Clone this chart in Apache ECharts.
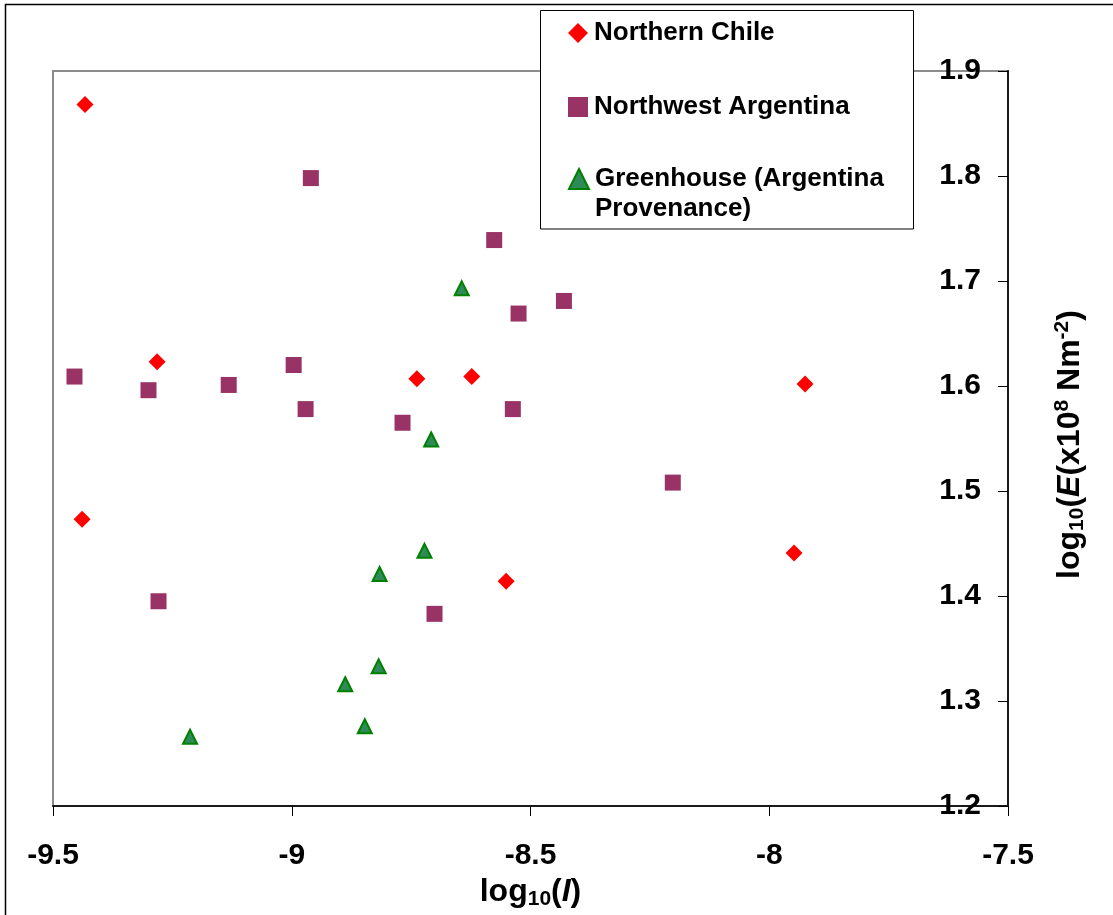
<!DOCTYPE html>
<html><head><meta charset="utf-8">
<script src="https://cdn.jsdelivr.net/npm/echarts@6/dist/echarts.min.js"></script>
<style>html,body{margin:0;padding:0;background:#fff}#c{width:1113px;height:915px}</style>
</head><body><div id="c"></div>
<script>
// ---- data ----
const xTicks = [-9.5, -9, -8.5, -8, -7.5];
const yTicks = [1.2, 1.3, 1.4, 1.5, 1.6, 1.7, 1.8, 1.9];
const seriesNames = ['Northern Chile', 'Northwest Argentina', 'Greenhouse (Argentina Provenance)'];
const chileX = [-9.433, -9.282, -9.439, -8.738, -8.623, -8.551, -7.925, -7.948];
const chileY = [1.868, 1.623, 1.473, 1.607, 1.609, 1.414, 1.602, 1.441];
const argX = [-8.960, -8.576, -8.430, -8.525, -9.455, -9.300, -9.132, -8.996, -8.971, -8.768, -8.537, -8.202, -9.279, -8.701];
const argY = [1.798, 1.739, 1.681, 1.669, 1.609, 1.596, 1.601, 1.620, 1.578, 1.565, 1.578, 1.508, 1.395, 1.383];
const ghX = [-8.644, -8.708, -8.722, -8.816, -8.818, -8.888, -8.847, -9.213];
const ghY = [1.693, 1.549, 1.443, 1.421, 1.333, 1.316, 1.276, 1.266];

const FONT = 'Liberation Sans, Arial, Helvetica, sans-serif';
const zip = (a, b) => a.map((v, i) => [v, b[i]]);

const chart = echarts.init(document.getElementById('c'), null, {renderer: 'canvas'});
const main = {fontFamily: FONT, fontWeight: 'bold', fontSize: 32, color: '#000', lineHeight: 36};
const sub = {fontFamily: FONT, fontWeight: 'bold', fontSize: 21, color: '#000', lineHeight: 21, verticalAlign: 'bottom'};
const sup = {fontFamily: FONT, fontWeight: 'bold', fontSize: 21, color: '#000', lineHeight: 21, verticalAlign: 'top'};
const ital = Object.assign({}, main, {fontStyle: 'italic'});

const legendText = {fontFamily: FONT, fontWeight: 'bold', fontSize: 26, color: '#000', lineHeight: 30, padding: [0, 0, 0, 1]};
function mkLegend(name, top, fmt) {
  return {
    data: [name], left: 568, top: top, orient: 'vertical', padding: 0, itemGap: 0,
    itemWidth: 20, itemHeight: 20, z: 20, selectedMode: false,
    textStyle: legendText, formatter: fmt || '{name}'
  };
}

chart.setOption({
  animation: false,
  backgroundColor: '#fff',
  grid: {left: 53, top: 71, width: 955, height: 735, show: true, borderColor: '#8c8c8c', borderWidth: 2, containLabel: false, outerBoundsMode: 'none'},
  graphic: [
    {type: 'polyline', shape: {points: [[5.5, 1000], [5.5, 4.5], [1200, 4.5]]}, style: {stroke: '#000', lineWidth: 1.5, fill: null}, z: 1},
    {type: 'rect', shape: {x: 540.5, y: 10.5, width: 373, height: 218.5}, style: {fill: '#fff', stroke: '#000', lineWidth: 1}, z: 10}
  ],
  legend: [
    mkLegend(seriesNames[0], 18),
    mkLegend(seriesNames[1], 92),
    mkLegend(seriesNames[2], 134, function (n) { return '\n' + n.replace(' Provenance', '\nProvenance'); })
  ],
  xAxis: {
    type: 'value', min: xTicks[0], max: xTicks[xTicks.length - 1], interval: 0.5,
    splitLine: {show: false},
    axisLine: {show: true, onZero: false, lineStyle: {color: '#1a1a1a', width: 2}},
    axisTick: {show: true, inside: false, length: 10, lineStyle: {color: '#000', width: 1}},
    axisLabel: {margin: 35, fontFamily: FONT, fontWeight: 'bold', fontSize: 30, color: '#000', formatter: v => String(v)},
    name: '{a|log}{s|10}{a|(}{i|I}{a|)}',
    nameLocation: 'middle', nameGap: 58,
    nameTextStyle: {rich: {a: main, s: sub, i: ital}}
  },
  yAxis: {
    type: 'value', position: 'right', min: yTicks[0], max: yTicks[yTicks.length - 1], interval: 0.1,
    splitLine: {show: false},
    axisLine: {show: true, onZero: false, lineStyle: {color: '#1a1a1a', width: 2}},
    axisTick: {show: true, inside: true, length: 10, lineStyle: {color: '#000', width: 1}},
    axisLabel: {inside: true, margin: 27, fontFamily: FONT, fontWeight: 'bold', fontSize: 30, color: '#000', formatter: v => v.toFixed(1)},
    name: '{a|log}{s|10}{a|(}{i|E}{a|(x10}{p|8}{a| Nm}{p|-2}{a|)}',
    nameLocation: 'middle', nameRotate: 90, nameGap: 44,
    nameTextStyle: {padding: [0, 12, 0, 0], rich: {a: main, s: sub, i: ital, p: sup}}
  },
  series: [
    {name: seriesNames[0], type: 'scatter', symbol: 'diamond', symbolSize: 17, data: zip(chileX, chileY), itemStyle: {color: '#FF0000', opacity: 1}},
    {name: seriesNames[1], type: 'scatter', symbol: 'rect', symbolSize: 16, data: zip(argX, argY), itemStyle: {color: '#993366', opacity: 1}},
    {name: seriesNames[2], type: 'scatter', symbol: 'triangle', symbolSize: 14, data: zip(ghX, ghY), itemStyle: {color: '#2E8B57', borderColor: '#008000', borderWidth: 2, opacity: 1}}
  ]
});
</script></body></html>
